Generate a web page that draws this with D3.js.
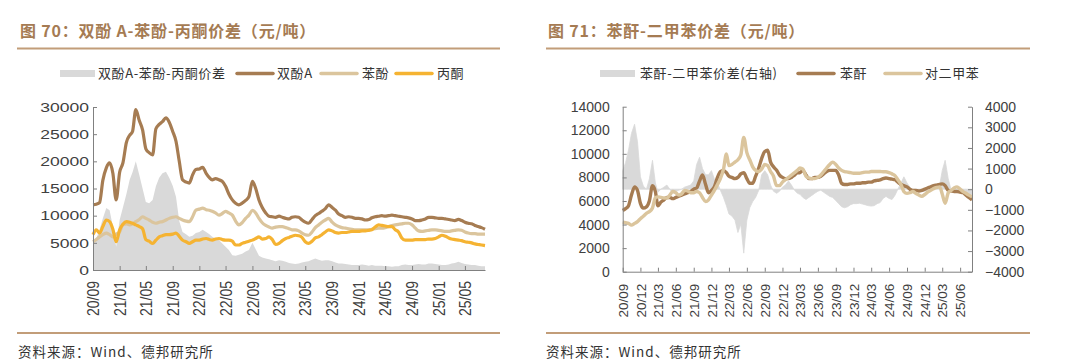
<!DOCTYPE html>
<html><head><meta charset="utf-8">
<script src="https://cdn.jsdelivr.net/npm/d3@7/dist/d3.min.js"></script>
<style>
body{margin:0;background:#fff;}
svg{display:block;font-family:"Liberation Sans",Arial,sans-serif;}
</style>
</head><body>
<svg id="c" width="1080" height="364"></svg>
<script>
// ---------- Left chart data (semi-monthly from 2020-09) ----------
const bpa = [
12000,12100,12400,16500,18800,19700,17800,12900,18000,19700,
23500,24800,25500,29500,27500,25800,22300,21600,21200,26000,
26800,27300,28000,27200,25500,23700,20000,16600,16200,16000,
17500,18500,18600,18900,17800,17000,16600,16800,16600,16300,
15400,14000,12900,12300,12000,12300,12800,13500,16300,15000,
12900,11500,10500,9900,9800,9700,9900,9700,9500,9400,
9700,9800,9700,9200,8800,8600,9300,10000,10400,10800,
11300,12000,11500,11000,10300,10000,9700,9800,9700,9500,
9500,9400,9200,9300,9600,9800,9900,10000,9900,10000,
10100,10000,9900,9800,9700,9600,9400,9100,9100,9200,
9400,9700,9700,9600,9500,9500,9400,9300,9200,9100,
9300,9100,8800,8600,8500,8200,8000,7800,7500];
const phenol = [
5200,5600,6100,6500,6800,6500,6100,6600,7000,8400,
8500,8300,8500,8900,9300,9800,9500,9200,8800,8600,
8800,8900,9200,9500,9700,9800,9500,9200,9000,8900,
9800,11000,11200,11400,11100,11000,10800,10500,10100,10400,
10800,10500,10100,9000,8300,8700,9500,10100,11000,10500,
9500,8700,8200,7900,7700,7900,8000,8000,7800,7600,
7400,7400,7200,6800,6500,6400,7000,7800,8300,8800,
9200,9500,8800,8300,8000,7800,7700,7600,7500,7400,
7400,7400,7400,7400,7500,7600,7700,7700,7800,8000,
8200,8300,8400,8500,8600,8600,8300,7700,7200,7100,
7200,7300,7400,7400,7300,7200,7100,7100,7200,7300,
7400,7300,7000,6800,6700,6700,6600,6600,6600];
const acetone = [
6500,7400,6800,8000,9200,8900,7500,5200,7400,8400,
8900,8800,8600,8300,8000,7600,5600,5300,4900,5500,
6100,6300,6500,6500,6600,6800,6200,5500,5200,4900,
5200,5500,5500,5700,5800,5600,5500,5700,5800,5600,
5500,5500,5300,4600,4600,4900,5100,5300,5500,5800,
6100,5700,5800,6100,5600,4700,4900,5400,5800,6000,
6200,6400,6300,6000,5200,4900,5300,5900,6100,6500,
7000,7400,7200,6900,6800,6900,6900,7000,7100,7100,
7100,7200,7200,7300,7400,7900,8300,8200,8100,8000,
8000,7400,7000,5900,5500,5500,5500,5600,5600,5600,
5600,5700,5700,5800,6100,6400,6200,5900,5700,5600,
5500,5400,5200,5100,5000,4800,4700,4600,4500];
const bpaSpread = [
4900,5800,7400,9500,11400,11000,8000,4300,9200,11500,
14000,16600,18000,20000,17500,15000,12500,12300,12900,15400,
17000,17800,18100,17000,15500,13500,9000,7000,6600,6100,
6300,6800,7000,7400,7000,6600,6100,5800,5500,4900,
4300,3700,2700,2600,2800,3000,3400,3700,5000,3800,
2600,2300,2100,2000,1800,1600,1800,1700,1500,1300,
1200,1100,1200,1400,1500,1600,1900,2100,1900,1700,
1800,1800,1600,1400,1200,1200,1100,1000,900,900,
900,1000,900,800,900,800,800,800,700,700,
600,700,700,900,1000,900,900,1000,1100,1000,
1000,1200,1200,1100,1000,900,900,1000,1200,1300,
1500,1300,1100,1000,900,900,800,700,700];

// ---------- Right chart data (semi-monthly from 2020-09) ----------
const pa = [
5200,5350,5600,6500,7200,6900,5800,5400,5500,6000,
7300,6800,5600,5900,6100,6300,6300,6200,6300,6400,
6500,6600,6700,6800,7000,7100,7700,8200,7400,6700,
6900,7200,8000,8500,8600,8400,8100,8000,7900,8000,
8300,8400,7900,7500,7500,8100,8800,9600,10200,10300,
9300,8900,8600,8200,8000,7900,7900,8000,8200,8400,
8400,8600,8200,7900,7900,8000,8000,8100,8300,8500,
8600,8600,8600,8200,7500,7400,7400,7450,7450,7500,
7500,7550,7550,7600,7600,7700,7750,7800,7900,7950,
7900,7850,7800,7600,7400,7300,7200,7000,6900,6900,
6850,6900,7000,7100,7200,7300,7350,7400,7450,7300,
6900,6850,6800,6800,6750,6700,6500,6300,6100];
const px = [
4200,4150,4100,3950,4100,4250,4500,4700,4950,5100,
5400,6300,6350,6300,6250,6250,6500,6800,6700,6500,
6600,6900,6850,6700,6700,6800,6700,6300,5950,6100,
6500,6900,7400,7900,8700,10000,9000,9100,9300,9500,
9900,11400,10100,9500,8900,8600,8500,8700,9100,9000,
8500,8100,7300,7300,7600,7800,8000,8200,8400,8600,
8800,8700,8100,7950,7900,7900,8000,8200,8500,8800,
9100,9300,9100,8800,8600,8500,8450,8400,8350,8350,
8350,8400,8450,8450,8500,8500,8500,8500,8480,8480,
8400,8300,8150,7800,7400,6800,6650,6700,6800,6650,
6500,6400,6550,6750,6900,7050,7150,7200,6600,5800,
6700,6900,7100,7200,7000,6800,6650,6500,6350];
const paSpread = [
900,1300,1900,2700,3150,2300,600,150,0,500,
1400,300,-150,0,100,200,0,-200,-100,-50,
0,100,150,200,400,1200,1550,1000,700,700,
900,500,300,-50,-400,-800,-1200,-1300,-1500,-2100,
-1700,-3100,-1500,-900,-600,-400,-50,700,900,700,
200,-100,-200,-100,100,200,400,200,-50,-200,
-250,-400,-500,-400,-300,-200,-100,-50,-150,-250,
-350,-400,-550,-700,-850,-900,-850,-750,-700,-700,
-680,-720,-760,-800,-820,-800,-700,-650,-450,-350,
-450,-500,-300,0,300,600,300,100,-50,-100,
-100,-120,-100,-60,-30,0,100,200,900,1400,
500,-50,-150,-100,-50,-100,-200,-300,-350];

// ---------- Tick labels ----------
const leftXTicks = ["20/09","21/01","21/05","21/09","22/01","22/05","22/09","23/01","23/05","23/09","24/01","24/05","24/09","25/01","25/05"];
const rightXTicks = ["20/09","20/12","21/03","21/06","21/09","21/12","22/03","22/06","22/09","22/12","23/03","23/06","23/09","23/12","24/03","24/06","24/09","24/12","25/03","25/06"];
const leftYTicks = [0,5000,10000,15000,20000,25000,30000];
const rightYTicks = [0,2000,4000,6000,8000,10000,12000,14000];
const rightY2Ticks = [-4000,-3000,-2000,-1000,0,1000,2000,3000,4000];

const titles = ["图 70：双酚 A-苯酚-丙酮价差（元/吨）","图 71：苯酐-二甲苯价差（元/吨）"];
const leftLegend = ["双酚A-苯酚-丙酮价差","双酚A","苯酚","丙酮"];
const rightLegend = ["苯酐-二甲苯价差(右轴)","苯酐","对二甲苯"];
const source = "资料来源：Wind、德邦研究所";

// ---------- Styles ----------
const C = {brown:"#a67c52", tan:"#dbc59d", orange:"#f5b332", grey:"#d9d9d9", title:"#a57b53", rule:"#c29d79", axis:"#808080", text:"#333333"};
const CJK = '"Noto Sans CJK SC","Noto Sans",sans-serif';

const svg = d3.select("#c");
const parse = d3.timeParse("%y/%m");
const n = bpa.length;
const dates = d3.range(n).map(i => new Date(2020, 8 + Math.floor(i/2), i % 2 ? 16 : 1));

// ---------- Headers / footers ----------
function frame(x0, x1, title, tx){
  svg.append("text").attr("x", tx).attr("y", 37).attr("font-family", CJK).attr("font-weight", "bold")
    .attr("font-size", 16).attr("letter-spacing", 0.8).attr("fill", C.title).text(title);
  svg.append("line").attr("x1", x0).attr("x2", x1).attr("y1", 48.5).attr("y2", 48.5).attr("stroke", C.rule).attr("stroke-width", 2);
  svg.append("line").attr("x1", x0).attr("x2", x1).attr("y1", 333).attr("y2", 333).attr("stroke", C.rule).attr("stroke-width", 2);
  svg.append("text").attr("x", tx - 2).attr("y", 357).attr("font-family", CJK).attr("font-size", 13.5)
    .attr("letter-spacing", 1).attr("fill", C.text).text(source);
}
frame(17, 500, titles[0], 20);
frame(546, 1030, titles[1], 548);

// ---------- Legends ----------
function legend(items){
  items.forEach(it => {
    if (it.type === "rect") svg.append("rect").attr("x", it.x).attr("y", 70).attr("width", 35).attr("height", 7).attr("fill", it.color);
    else svg.append("line").attr("x1", it.x).attr("x2", it.x + 36).attr("y1", 73.5).attr("y2", 73.5).attr("stroke", it.color).attr("stroke-width", 3.5).attr("stroke-linecap","round");
    svg.append("text").attr("x", it.tx).attr("y", 78).attr("font-family", CJK).attr("font-size", 13)
      .attr("letter-spacing", 0.6).attr("fill", C.text).text(it.label);
  });
}
legend([
  {type:"rect", x:60, tx:98, color:C.grey, label:leftLegend[0]},
  {type:"line", x:237, tx:277, color:C.brown, label:leftLegend[1]},
  {type:"line", x:321, tx:362, color:C.tan, label:leftLegend[2]},
  {type:"line", x:396, tx:437, color:C.orange, label:leftLegend[3]}
]);
legend([
  {type:"rect", x:600, tx:640, color:C.grey, label:rightLegend[0]},
  {type:"line", x:798, tx:840, color:C.brown, label:rightLegend[1]},
  {type:"line", x:885, tx:925, color:C.tan, label:rightLegend[2]}
]);

function styleAxis(g){
  g.select(".domain").attr("stroke", C.axis);
  g.selectAll(".tick line").attr("stroke", C.axis);
  g.selectAll("text").attr("fill", "#404040").attr("font-family", '"Liberation Sans",Arial,sans-serif');
}

// ---------- Left chart ----------
{
  const x = d3.scaleTime().domain([dates[0], dates[n-1]]).range([93, 485]);
  const y = d3.scaleLinear().domain([0, 30000]).range([270, 107]);
  const g = svg.append("g");
  g.append("path").datum(bpaSpread)
    .attr("fill", C.grey).attr("stroke", "none")
    .attr("d", d3.area().x((d,i) => x(dates[i])).y0(y(0)).y1(d => y(d)));
  const line = d3.line().x((d,i) => x(dates[i])).y(d => y(d)).curve(d3.curveMonotoneX);
  [[bpa, C.brown],[phenol, C.tan],[acetone, C.orange]].forEach(([s, c]) => {
    g.append("path").datum(s).attr("fill","none").attr("stroke", c).attr("stroke-width", 3.2)
      .attr("stroke-linejoin","round").attr("d", line);
  });
  const sx = 1.3;
  const ya = g.append("g").attr("transform", "translate(93,0)")
    .call(d3.axisLeft(y).tickValues(leftYTicks).tickSizeInner(-4).tickSizeOuter(0).tickPadding(4/sx).tickFormat(d3.format("d")));
  ya.selectAll("text").attr("font-size", 13.5).attr("transform", `scale(${sx},1)`);
  styleAxis(ya);
  const xa = g.append("g").attr("transform", "translate(0,270)")
    .call(d3.axisBottom(x).tickValues(leftXTicks.map(parse)).tickSizeInner(-4).tickSizeOuter(0).tickFormat(d3.timeFormat("%y/%m")));
  xa.selectAll("text").attr("font-size", 14).attr("text-anchor", "end").attr("x", 0).attr("y", 0).attr("dy", "0.35em")
    .attr("transform", "translate(0,11) scale(1.15,1) rotate(-90)");
  styleAxis(xa);
}

// ---------- Right chart ----------
{
  const x = d3.scaleTime().domain([dates[0], dates[n-1]]).range([622.7, 972]);
  const y = d3.scaleLinear().domain([0, 14000]).range([271.7, 106.7]);
  const y2 = d3.scaleLinear().domain([-4000, 4000]).range([271.7, 106.7]);
  const g = svg.append("g");
  g.append("path").datum(paSpread)
    .attr("fill", C.grey).attr("stroke", C.grey).attr("stroke-width", 0.8)
    .attr("d", d3.area().x((d,i) => x(dates[i])).y0(y2(0)).y1(d => y2(d)));
  const line = d3.line().x((d,i) => x(dates[i])).y(d => y(d)).curve(d3.curveMonotoneX);
  [[pa, C.brown],[px, C.tan]].forEach(([s, c]) => {
    g.append("path").datum(s).attr("fill","none").attr("stroke", c).attr("stroke-width", 3.4)
      .attr("stroke-linejoin","round").attr("d", line);
  });
  const ya = g.append("g").attr("transform", "translate(622.7,0)")
    .call(d3.axisLeft(y).tickValues(rightYTicks).tickSizeInner(-4).tickSizeOuter(0).tickPadding(13).tickFormat(d3.format("d")));
  ya.selectAll("text").attr("font-size", 14);
  styleAxis(ya);
  const ya2 = g.append("g").attr("transform", "translate(972,0)")
    .call(d3.axisRight(y2).tickValues(rightY2Ticks).tickSizeInner(-4).tickSizeOuter(0).tickPadding(13).tickFormat(d3.format("d")));
  ya2.selectAll("text").attr("font-size", 14);
  styleAxis(ya2);
  const xa = g.append("g").attr("transform", "translate(0,271.7)")
    .call(d3.axisBottom(x).tickValues(rightXTicks.map(parse)).tickSizeInner(-4).tickSizeOuter(0).tickFormat(d3.timeFormat("%y/%m")));
  xa.selectAll("text").attr("font-size", 13.5).attr("text-anchor", "end").attr("x", 0).attr("y", 0).attr("dy", "0.35em")
    .attr("transform", "translate(0,12) rotate(-90)");
  styleAxis(xa);
}
</script>
</body></html>
